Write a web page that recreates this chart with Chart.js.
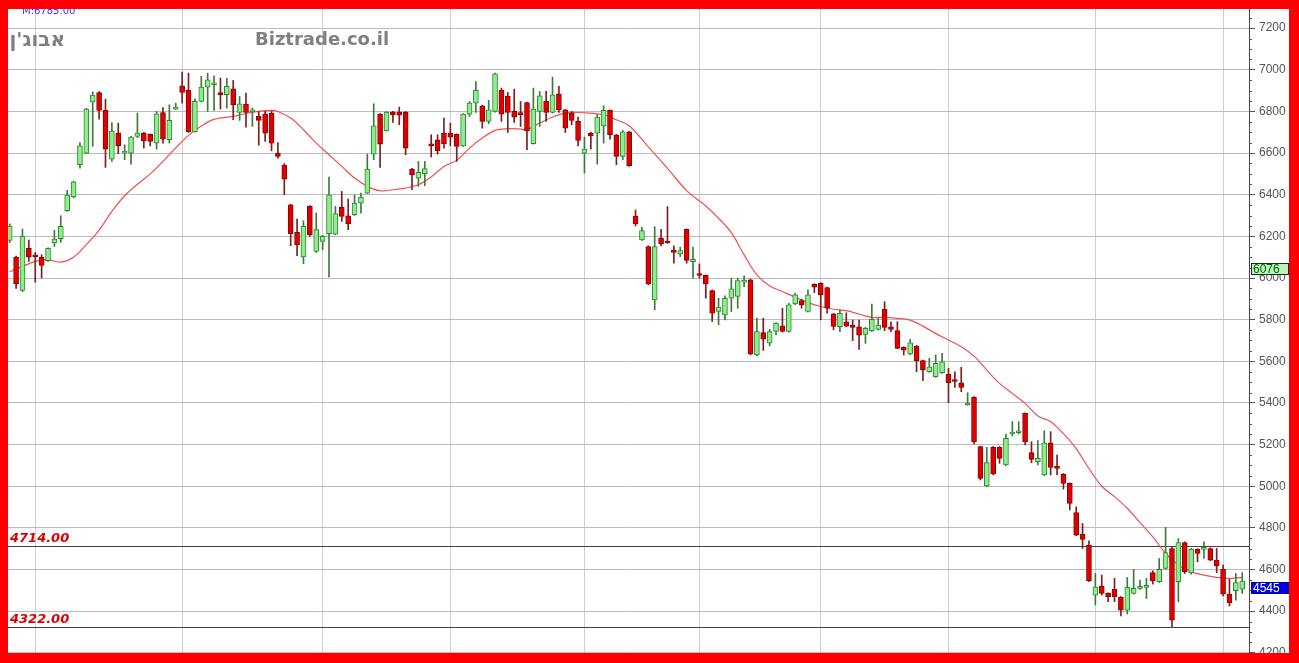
<!DOCTYPE html>
<html>
<head>
<meta charset="utf-8">
<script src="https://cdn.jsdelivr.net/npm/chart.js@4.4.1/dist/chart.umd.min.js"></script>
<style>
  html, body { margin: 0; padding: 0; background: #ff0000; width: 1299px; height: 663px; overflow: hidden; }
  #wrap { position: absolute; left: 8px; top: 9px; width: 1281px; height: 644px; background: #fff; }
</style>
</head>
<body>
<div id="wrap"><canvas id="myChart"></canvas></div>
<script>
// daily candles
const opens = [6180,6100,5940,6142,6105,6099,6083,6168,6189,6323,6389,6544,6600,6846,6891,6805,6571,6696,6600,6600,
  6680,6696,6690,6648,6795,6664,6811,6923,6901,6702,6848,6917,6928,6891,6880,6909,6795,6835,6798,6776,
  6789,6792,6600,6542,6352,6219,6101,6344,6128,6176,6213,6210,6341,6299,6304,6360,6408,6595,6787,6707,
  6797,6797,6797,6523,6480,6501,6645,6664,6696,6696,6690,6635,6787,6840,6827,6752,6800,6901,6872,6800,
  6790,6843,6645,6800,6848,6795,6885,6808,6792,6752,6600,6696,6696,6731,6805,6686,6584,6702,6298,6183,
  6151,5895,6191,6172,6128,6116,6234,6079,6018,6013,5940,5839,5823,5903,5911,5980,5991,5631,5738,5687,
  5743,5770,5743,5876,5892,5839,5970,5975,5954,5828,5766,5790,5769,5766,5729,5747,5753,5849,5766,5747,
  5667,5635,5673,5603,5550,5526,5545,5539,5506,5497,5390,5427,5190,5001,5187,5187,5102,5251,5257,5350,
  5161,5118,5054,5209,5090,5058,5014,4873,4770,4717,4477,4521,4485,4505,4466,4405,4485,4509,4514,4585,
  4541,4605,4701,4541,4729,4585,4697,4697,4701,4645,4601,4482,4498,4505];
const highs = [6260,6105,6235,6182,6123,6112,6145,6229,6299,6421,6465,6651,6815,6894,6895,6859,6747,6744,6640,6680,
  6792,6700,6692,6800,6819,6832,6840,6989,6984,6860,6968,6984,6971,6960,6960,6949,6872,6888,6816,6800,
  6800,6800,6651,6550,6355,6283,6275,6348,6312,6205,6485,6344,6416,6379,6400,6408,6595,6837,6790,6800,
  6800,6821,6800,6527,6560,6560,6688,6688,6768,6744,6692,6790,6848,6944,6830,6853,6984,6912,6891,6907,
  6848,6845,6912,6896,6896,6965,6920,6810,6800,6773,6677,6700,6784,6827,6808,6690,6709,6705,6327,6244,
  6155,6247,6234,6343,6154,6148,6236,6148,6068,6015,5943,5903,5914,5999,5999,6010,5995,5807,5807,5754,
  5786,5855,5879,5927,5898,5943,5972,5978,5957,5830,5846,5833,5798,5798,5763,5875,5806,5886,5790,5790,
  5670,5705,5676,5606,5614,5630,5638,5566,5550,5571,5449,5430,5192,5187,5190,5190,5251,5310,5310,5352,
  5214,5219,5266,5262,5149,5061,5016,4901,4821,4738,4581,4573,4488,4558,4470,4562,4601,4549,4557,4594,
  4653,4802,4709,4749,4733,4700,4700,4733,4704,4701,4621,4553,4581,4585];
const lows = [6170,5950,5935,6080,5980,6000,6080,6152,6171,6320,6385,6528,6597,6632,6763,6531,6560,6597,6568,6547,
  6675,6624,6635,6619,6648,6648,6808,6840,6700,6700,6845,6800,6805,6811,6816,6760,6757,6725,6728,6638,
  6656,6611,6576,6400,6155,6107,6069,6200,6123,6136,6005,6207,6272,6232,6300,6312,6405,6568,6531,6705,
  6747,6736,6592,6424,6440,6443,6581,6595,6624,6635,6560,6632,6776,6795,6720,6741,6797,6752,6699,6747,
  6728,6616,6643,6728,6752,6792,6795,6699,6736,6635,6504,6619,6547,6648,6667,6544,6568,6536,6250,6180,
  5967,5847,6154,6166,6071,6103,6071,5999,5999,5903,5791,5775,5799,5839,5855,5959,5631,5626,5652,5674,
  5727,5740,5740,5871,5855,5836,5930,5799,5831,5751,5742,5766,5699,5657,5686,5744,5750,5747,5742,5660,
  5630,5632,5550,5507,5547,5523,5542,5401,5475,5454,5388,5203,5030,4998,5054,5110,5099,5241,5251,5198,
  5113,5102,5051,5054,5054,4986,4886,4762,4701,4541,4430,4477,4445,4445,4377,4386,4482,4504,4461,4530,
  4538,4602,4325,4445,4581,4578,4637,4653,4642,4585,4473,4425,4453,4485];
const closes = [6250,5973,6200,6100,6102,6061,6142,6187,6248,6398,6462,6635,6811,6878,6805,6619,6706,6635,6604,6677,
  6696,6659,6656,6789,6667,6757,6814,6891,6702,6848,6917,6952,6930,6880,6920,6832,6837,6795,6802,6757,
  6696,6648,6584,6475,6213,6160,6248,6208,6232,6200,6400,6309,6296,6261,6360,6389,6523,6731,6643,6797,
  6784,6782,6624,6496,6507,6526,6635,6611,6645,6677,6632,6787,6840,6901,6752,6808,6981,6787,6795,6773,
  6785,6707,6811,6875,6795,6880,6808,6720,6757,6661,6619,6683,6773,6805,6688,6584,6702,6539,6260,6228,
  5972,6151,6164,6168,6123,6132,6084,6090,6012,5972,5831,5860,5903,5948,5988,5985,5636,5743,5706,5743,
  5783,5743,5871,5919,5871,5919,5956,5919,5855,5767,5830,5769,5763,5726,5758,5801,5774,5763,5753,5662,
  5654,5689,5603,5558,5574,5590,5598,5497,5503,5475,5398,5214,5038,5113,5059,5134,5230,5257,5262,5214,
  5129,5134,5209,5090,5086,5014,4918,4765,4745,4546,4517,4485,4469,4469,4405,4514,4509,4514,4518,4546,
  4601,4681,4357,4729,4589,4697,4677,4701,4645,4617,4482,4441,4537,4545];

// moving average line, read at some candles
const maIdx = [0,2,4,6,8,10,12,14,16,18,20,22,24,26,28,30,32,35,37,39,41,42,44,46,48,50,52,54,56,58,60,62,64,66,68,70,72,74,76,78,
  80,81,83,85,87,89,91,93,95,97,100,103,106,109,111,113,115,117,119,121,123,125,127,129,131,133,135,137,139,141,
  143,145,147,149,151,153,155,157,159,161,163,165,167,169,171,173,175,177,179,181,183,185,187,189,191,193];
const maVal = [6030,6055,6080,6088,6076,6100,6160,6230,6320,6395,6450,6500,6560,6625,6685,6730,6762,6776,6790,6800,6805,6800,6768,6712,6648,6592,6536,6480,6440,6419,6424,6432,6448,6485,6536,6565,6624,6672,6709,6717,
  6715,6712,6744,6773,6792,6795,6792,6784,6760,6731,6630,6527,6420,6346,6287,6218,6111,6015,5962,5935,5908,5882,5863,5850,5843,5827,5811,5811,5806,5798,
  5769,5734,5702,5670,5625,5558,5494,5446,5398,5337,5310,5253,5181,5085,5000,4950,4894,4825,4757,4677,4621,4589,4573,4562,4557,4562];

const levels = [4714, 4322];
const monthStarts = [4, 27, 49, 69, 90, 108, 127, 147, 170, 190];
const yTicks = [4200,4400,4600,4800,5000,5200,5400,5600,5800,6000,6200,6400,6600,6800,7000,7200];
const sideValues = [6076, 4545];

const up = closes.map((c, i) => c >= opens[i]);
const bodyFill = up.map(u => u ? "#8fec8f" : "#e00000");
const bodyLine = up.map(u => u ? "#2a8a2a" : "#8e0000");
const wickCol = up.map(u => u ? "#3c7a3c" : "#7a2020");

const overlay = {
  id: "overlay",
  beforeDatasetsDraw(chart) {
    const c = chart.ctx, a = chart.chartArea, y = chart.scales.y;
    c.save();
    c.fillStyle = "#808080";
    c.font = "bold 18px 'DejaVu Sans'";
    c.textAlign = "left";
    c.fillText("Biztrade.co.il", 247, 36);
    c.font = "bold 20px 'DejaVu Sans'";
    c.textAlign = "right";
    c.direction = "rtl";
    c.fillText("אבוג'ן", 57, 37);
    c.direction = "ltr";
    c.textAlign = "left";
    c.fillStyle = "#3030ff";
    c.font = "10px 'DejaVu Sans'";
    c.fillText("M:6785.00", 14, 5);
    // support / resistance levels
    levels.forEach((v) => {
      const py = Math.round(y.getPixelForValue(v)) + 0.5;
      c.strokeStyle = "#404040";
      c.lineWidth = 1.2;
      c.beginPath();
      c.moveTo(a.left, py);
      c.lineTo(a.right, py);
      c.stroke();
      c.fillStyle = "#dd0000";
      c.font = "italic bold 13px 'DejaVu Sans'";
      c.fillText(v.toFixed(2), 2, py - 5);
    });
    c.restore();
  },
  afterDraw(chart) {
    const c = chart.ctx, a = chart.chartArea, y = chart.scales.y;
    c.save();
    // minor ticks
    c.strokeStyle = "#555";
    c.lineWidth = 1;
    for (let v = 4250; v < 7300; v += 50) {
      if (v % 200 === 0) continue;
      const py = Math.round(y.getPixelForValue(v)) + 0.5;
      c.beginPath();
      c.moveTo(a.right, py);
      c.lineTo(a.right + 3, py);
      c.stroke();
    }
    // value boxes on the axis
    sideValues.forEach((v, i) => {
      const top = Math.round(y.getPixelForValue(v)) + 1;
      c.fillStyle = i === 0 ? "#b8f5b8" : "#0000e0";
      c.fillRect(a.right + 2, top, 38, 12);
      c.strokeStyle = i === 0 ? "#222" : "#0000a0";
      c.strokeRect(a.right + 2.5, top + 0.5, 37, 11);
      c.fillStyle = i === 0 ? "#006000" : "#ffffff";
      c.font = "12px 'Liberation Sans'";
      c.textAlign = "left";
      c.fillText(String(v), a.right + 4, top + 10);
    });
    c.restore();
  }
};

const ctx = document.getElementById("myChart");
const myChart = new Chart(ctx, {
  type: "bar",
  data: {
    datasets: [
      {
        type: "line",
        label: "MA",
        data: maIdx.map((x, i) => ({ x: x, y: maVal[i] })),
        borderColor: "#f05050",
        borderWidth: 1.2,
        pointRadius: 0,
        tension: 0.35,
        fill: false,
        order: 3,
      },
      {
        label: "wick",
        data: lows.map((l, i) => ({ x: i, y: [l, highs[i]] })),
        backgroundColor: wickCol,
        borderWidth: 0,
        barThickness: 1,
        grouped: false,
        order: 2,
      },
      {
        label: "body",
        data: opens.map((o, i) => ({ x: i, y: [o, closes[i]] })),
        backgroundColor: bodyFill,
        borderColor: bodyLine,
        borderWidth: 1,
        borderSkipped: false,
        barThickness: 5,
        minBarLength: 2,
        grouped: false,
        order: 1,
      },
    ],
  },
  options: {
    responsive: true,
    maintainAspectRatio: false,
    animation: false,
    events: [],
    layout: { padding: 0 },
    plugins: { legend: { display: false }, tooltip: { enabled: false } },
    scales: {
      x: {
        type: "linear",
        min: -0.266,
        max: 194.06,
        offset: false,
        afterBuildTicks: (s) => { s.ticks = monthStarts.map((v) => ({ value: v })); },
        afterFit: (s) => { s.height = 0; s.paddingLeft = 0; s.paddingRight = 0; },
        ticks: { display: false },
        border: { display: false },
        grid: { offset: false, color: "#cfcfcf", borderDash: [1, 1], drawTicks: false },
      },
      y: {
        position: "right",
        min: 4199,
        max: 7292,
        afterBuildTicks: (s) => { s.ticks = yTicks.map((v) => ({ value: v })); },
        afterFit: (s) => { s.width = 40; s.paddingTop = 0; s.paddingBottom = 0; },
        ticks: {
          color: "#555",
          padding: 4,
          font: { family: "'Liberation Sans'", size: 12 },
          callback: (v) => String(v),
        },
        border: { display: true, color: "#444", width: 1 },
        grid: { color: "#bcbcbc", borderDash: [1, 2], tickLength: 6, tickColor: "#555", tickBorderDash: [] },
      },
    },
  },
  plugins: [overlay],
});
</script>
</body>
</html>
